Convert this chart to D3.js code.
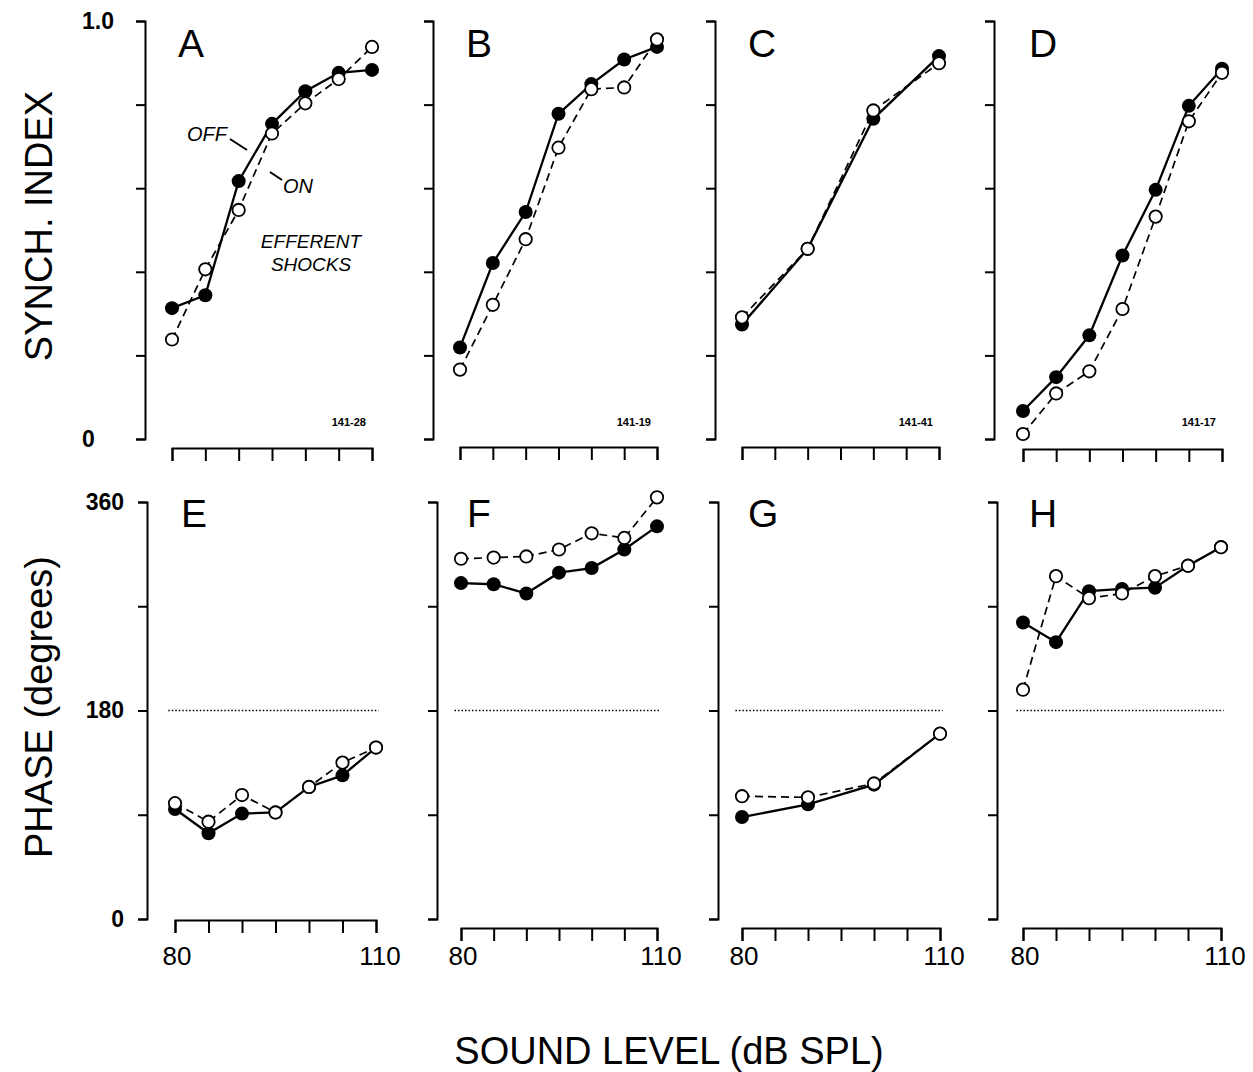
<!DOCTYPE html>
<html>
<head>
<meta charset="utf-8">
<script src="https://cdn.jsdelivr.net/npm/d3@7"></script>
<style>
  body { margin: 0; background: #fff; }
  svg { display: block; }
  .axis path, .axis line { stroke: #000; stroke-width: 2; }
  .axis text { font-family: "Liberation Sans", Arial, sans-serif; font-weight: bold; font-size: 23px; fill: #000; }
</style>
</head>
<body>
<div id="chart"></div>
<script>
// sound levels (dB SPL)
const levels7 = [80, 85, 90, 95, 100, 105, 110];
const levels4 = [80, 90, 100, 110];
const xTicks = [80, 85, 90, 95, 100, 105, 110];
const xLabels = [80, 110];

// synchronization index, efferent shocks OFF (filled) / ON (open)
const synchOffA = [0.313, 0.344, 0.617, 0.754, 0.832, 0.876, 0.883];
const synchOnA  = [0.238, 0.406, 0.548, 0.731, 0.803, 0.861, 0.938];
const synchOffB = [0.219, 0.421, 0.543, 0.778, 0.849, 0.908, 0.938];
const synchOnB  = [0.166, 0.321, 0.478, 0.697, 0.837, 0.841, 0.956];
const synchOffC = [0.274, 0.455, 0.766, 0.916];
const synchOnC  = [0.291, 0.455, 0.786, 0.899];
const synchOffD = [0.067, 0.148, 0.248, 0.439, 0.596, 0.797, 0.886];
const synchOnD  = [0.012, 0.109, 0.162, 0.311, 0.532, 0.760, 0.876];

// phase (degrees)
const phaseOffE = [95, 74, 91, 92, 114, 124, 148];
const phaseOnE  = [100, 84, 107, 92, 114, 135, 148];
const phaseOffF = [290, 289, 281, 299, 303, 319, 339];
const phaseOnF  = [311, 312, 313, 319, 333, 329, 364];
const phaseOffG = [88, 99, 116, 160];
const phaseOnG  = [106, 105, 117, 160];
const phaseOffH = [256, 239, 283, 285, 286, 305, 321];
const phaseOnH  = [198, 296, 277, 281, 296, 305, 321];

const unitIds = ['141-28', '141-19', '141-41', '141-17'];
const topLetters = ['A', 'B', 'C', 'D'];
const bottomLetters = ['E', 'F', 'G', 'H'];
const synchTicks = [0, 0.2, 0.4, 0.6, 0.8, 1.0];
const phaseTicks = [0, 90, 180, 270, 360];
const refPhase = 180;
const refSpan = [79, 110.4];

const W = 1253, H = 1072;
const font = '"Liberation Sans", Arial, sans-serif';

// layout
const topAxisX = [145, 433, 715, 994];
const botAxisX = [147, 437, 718, 997];
const topXRange = [[172, 372], [460, 657], [742, 939], [1023, 1222]];
const botXRange = [[175, 376], [461, 657], [742, 940], [1023, 1221]];
const topXAxisY = [448, 447, 447, 449];
const botXAxisY = [920, 928, 928, 928];
const topY = [439, 21], botY = [919, 502];
const xLabelY = 965;
const topLabelLeft = 82;

const svg = d3.select('#chart').append('svg')
  .attr('width', W)
  .attr('height', H);

const topData = [
  [levels7, synchOffA, synchOnA],
  [levels7, synchOffB, synchOnB],
  [levels4, synchOffC, synchOnC],
  [levels7, synchOffD, synchOnD]
];
const botData = [
  [levels7, phaseOffE, phaseOnE],
  [levels7, phaseOffF, phaseOnF],
  [levels4, phaseOffG, phaseOnG],
  [levels7, phaseOffH, phaseOnH]
];

function drawPanel(opts) {
  const g = svg.append('g');
  const x = d3.scaleLinear().domain([80, 110]).range(opts.xRange);
  const y = d3.scaleLinear().domain(opts.yDomain).range(opts.yRange);

  // y axis
  const yAxisG = g.append('g')
    .attr('class', 'axis')
    .attr('transform', `translate(${opts.axisX},0)`)
    .call(d3.axisLeft(y)
      .tickValues(opts.yTicks)
      .tickSize(9)
      .tickSizeOuter(9)
      .tickPadding(14)
      .tickFormat(d => (opts.showY && opts.yLabels.includes(d)) ? opts.yFmt(d) : ''));

  // synch index labels sit flush left in the original
  if (opts.labelLeft != null) {
    yAxisG.selectAll('.tick text')
      .attr('text-anchor', 'start')
      .attr('x', opts.labelLeft - opts.axisX);
  }

  // x axis
  g.append('g')
    .attr('class', 'axis')
    .attr('transform', `translate(0,${opts.xAxisY})`)
    .call(d3.axisBottom(x)
      .tickValues(xTicks)
      .tickSize(13)
      .tickSizeOuter(13)
      .tickFormat(''));

  if (opts.showX) {
    g.selectAll('.xlab').data(xLabels).enter()
      .append('text')
      .attr('x', d => x(d) + (d === 110 ? 4 : 2))
      .attr('y', xLabelY)
      .attr('text-anchor', 'middle')
      .attr('font-family', font)
      .attr('font-size', 26)
      .text(d => d);
  }

  // reference line at 180 degrees
  if (opts.ref) {
    g.append('line')
      .attr('x1', x(refSpan[0])).attr('x2', x(refSpan[1]))
      .attr('y1', y(refPhase)).attr('y2', y(refPhase))
      .attr('stroke', '#000')
      .attr('stroke-width', 1.5)
      .attr('stroke-dasharray', '1.5,2');
  }

  const [lv, off, on] = opts.data;
  const ptsOff = lv.map((d, i) => [d, off[i]]);
  const ptsOn = lv.map((d, i) => [d, on[i]]);
  const line = d3.line().x(d => x(d[0])).y(d => y(d[1]));

  g.append('path').datum(ptsOn)
    .attr('d', line)
    .attr('fill', 'none')
    .attr('stroke', '#000')
    .attr('stroke-width', 1.7)
    .attr('stroke-dasharray', '8,5');

  g.append('path').datum(ptsOff)
    .attr('d', line)
    .attr('fill', 'none')
    .attr('stroke', '#000')
    .attr('stroke-width', 2.3);

  g.selectAll('.off').data(ptsOff).enter()
    .append('circle')
    .attr('cx', d => x(d[0]))
    .attr('cy', d => y(d[1]))
    .attr('r', 7)
    .attr('fill', '#000');

  g.selectAll('.on').data(ptsOn).enter()
    .append('circle')
    .attr('cx', d => x(d[0]))
    .attr('cy', d => y(d[1]))
    .attr('r', 6.2)
    .attr('fill', '#fff')
    .attr('stroke', '#000')
    .attr('stroke-width', 1.8);

  // panel letter
  g.append('text')
    .attr('x', x(80) + 6)
    .attr('y', opts.letterY)
    .attr('font-family', font)
    .attr('font-size', 39)
    .text(opts.letter);

  // unit id
  if (opts.unit) {
    g.append('text')
      .attr('x', x(110) - 6)
      .attr('y', opts.yRange[0] - 13)
      .attr('text-anchor', 'end')
      .attr('font-family', font)
      .attr('font-weight', 'bold')
      .attr('font-size', 11)
      .text(opts.unit);
  }
}

for (let i = 0; i < 4; i++) {
  drawPanel({
    axisX: topAxisX[i], xRange: topXRange[i], yRange: topY, xAxisY: topXAxisY[i],
    yDomain: [0, 1], yTicks: synchTicks, yLabels: [0, 1],
    yFmt: d => d === 0 ? '0' : '1.0', labelLeft: i === 0 ? topLabelLeft : null,
    showY: i === 0, showX: false, ref: false,
    data: topData[i], letter: topLetters[i], letterY: 57, unit: unitIds[i]
  });
  drawPanel({
    axisX: botAxisX[i], xRange: botXRange[i], yRange: botY, xAxisY: botXAxisY[i],
    yDomain: [0, 360], yTicks: phaseTicks, yLabels: [0, 180, 360],
    yFmt: d => String(d), labelLeft: null,
    showY: i === 0, showX: true, ref: true,
    data: botData[i], letter: bottomLetters[i], letterY: 527, unit: null
  });
}

// annotations in panel A
const ann = svg.append('g')
  .attr('font-family', font)
  .attr('font-style', 'italic')
  .attr('fill', '#000');
ann.append('text').attr('x', 187).attr('y', 141).attr('font-size', 20).text('OFF');
ann.append('line').attr('x1', 230).attr('y1', 139).attr('x2', 247).attr('y2', 150)
  .attr('stroke', '#000').attr('stroke-width', 2);
ann.append('line').attr('x1', 270).attr('y1', 172).attr('x2', 282).attr('y2', 180)
  .attr('stroke', '#000').attr('stroke-width', 2);
ann.append('text').attr('x', 283).attr('y', 193).attr('font-size', 20).text('ON');
ann.append('text').attr('x', 311).attr('y', 248).attr('font-size', 19)
  .attr('text-anchor', 'middle').text('EFFERENT');
ann.append('text').attr('x', 311).attr('y', 271).attr('font-size', 19)
  .attr('text-anchor', 'middle').text('SHOCKS');

// axis titles
svg.append('text')
  .attr('transform', 'translate(52,226) rotate(-90)')
  .attr('text-anchor', 'middle')
  .attr('font-family', font)
  .attr('font-size', 38)
  .text('SYNCH. INDEX');

svg.append('text')
  .attr('transform', 'translate(52,707) rotate(-90)')
  .attr('text-anchor', 'middle')
  .attr('font-family', font)
  .attr('font-size', 38)
  .text('PHASE (degrees)');

svg.append('text')
  .attr('x', 669)
  .attr('y', 1064)
  .attr('text-anchor', 'middle')
  .attr('font-family', font)
  .attr('font-size', 38)
  .text('SOUND LEVEL (dB SPL)');
</script>
</body>
</html>
